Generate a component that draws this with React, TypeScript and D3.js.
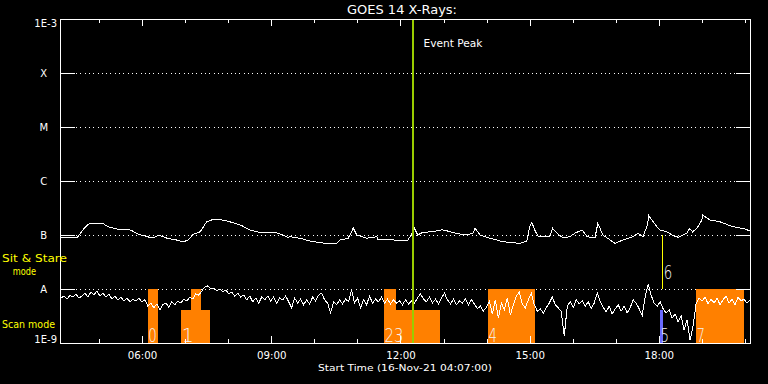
import React from "react";
import * as d3 from "d3";

// ---------- data ----------
const START_UTC = Date.UTC(2021, 10, 16, 4, 7, 0); // 16-Nov-21 04:07:00
const SPAN_MIN = 960;
const TITLE = "GOES 14 X-Rays:";
const X_TITLE = "Start Time (16-Nov-21 04:07:00)";

// 1-8 Angstrom channel: minutes from start, flux in units of 1e-7 W/m^2
const longTimes = [
  0, 22, 33, 40, 59, 61, 68, 78, 92, 99, 107, 120, 128, 134, 138, 148, 159, 170, 177, 184,
  194, 203, 210, 221, 235, 252, 263, 277, 301, 309, 316, 319, 333, 347, 365, 384, 389, 400, 405, 407,
  412, 426, 440, 442, 458, 483, 488, 492, 497, 504, 518, 531, 538, 552, 566, 574, 577, 584, 598, 616,
  639, 649, 653, 656, 660, 665, 681, 685, 691, 699, 709, 716, 726, 733, 744, 748, 755, 765, 772, 783,
  797, 804, 811, 817, 819, 825, 834, 844, 853, 860, 872, 876, 880, 886, 893, 894, 904, 918, 932, 942,
  950, 960,
];
const longFlux = [
  0.88, 0.88, 1.37, 1.65, 1.65, 1.53, 1.39, 1.29, 1.29, 1.2, 1.04, 0.93, 0.88, 0.96, 0.97, 0.87, 0.82, 0.75, 0.8, 1.03,
  1.15, 1.76, 1.9, 1.95, 1.76, 1.49, 1.24, 1.12, 1.09, 1.0, 0.91, 0.93, 0.87, 0.77, 0.71, 0.7, 0.81, 0.87, 1.15, 1.37,
  1.0, 0.87, 0.93, 0.81, 0.81, 0.8, 1.0, 1.37, 1.0, 1.12, 1.15, 1.25, 1.19, 1.06, 1.0, 1.08, 1.33, 1.0, 0.87, 0.75,
  0.7, 0.77, 1.42, 1.72, 1.24, 0.93, 0.93, 1.33, 1.08, 0.89, 0.93, 1.08, 1.24, 0.93, 0.89, 1.65, 1.0, 0.81, 0.7, 0.81,
  0.93, 1.08, 0.93, 1.53, 2.28, 1.76, 1.24, 1.15, 0.97, 0.91, 1.08, 1.33, 1.14, 1.33, 1.9, 2.34, 1.9, 1.76, 1.49, 1.37,
  1.33, 1.19,
];
const LONG_UNIT = 1e-7;

// 0.5-4 Angstrom channel: fixed cadence samples, flux in units of 1e-9 W/m^2
const SHORT_CADENCE_MIN = 960 / 230;
const shortFlux = [
  6.8, 7.4, 6.5, 7.7, 7.1, 8.1, 6.8, 7.4, 8.4, 7.1,
  8.8, 7.7, 9.2, 7.4, 8.4, 7.1, 8.1, 6.5, 7.4, 6.3,
  7.1, 6.0, 6.8, 5.8, 6.5, 6.0, 6.8, 5.8, 6.3, 4.8,
  5.5, 4.5, 5.3, 4.1, 5.1, 5.5, 4.6, 5.8, 5.1, 6.0,
  5.5, 6.5, 6.0, 7.1, 6.5, 8.1, 7.7, 9.2, 10.9, 11.4,
  10.0, 10.4, 9.2, 10.0, 8.8, 9.6, 8.1, 8.8, 7.4, 8.4,
  7.1, 7.7, 6.3, 7.4, 5.8, 6.8, 5.5, 7.1, 6.3, 7.4,
  6.0, 7.1, 5.5, 6.8, 6.3, 7.4, 5.8,
  4.5, 6.8, 5.5, 6.5, 5.1, 6.3, 5.3, 7.1, 6.0, 7.7,
  8.4, 6.3, 5.5, 3.6, 5.8, 5.1, 6.3, 5.3, 6.5, 5.8,
  9.6, 5.5, 6.8, 4.5, 6.3, 5.1, 7.4, 5.5, 6.5, 5.8,
  7.1, 5.5, 6.5, 5.3, 6.3, 5.5, 6.0, 5.1, 6.3, 5.3,
  6.0, 5.5, 6.8, 8.1, 6.5, 5.8, 7.1, 5.5, 6.5, 5.3,
  6.8, 8.4, 6.3, 5.3, 6.5, 5.1, 6.0, 5.5, 6.5, 5.1,
  6.3, 5.3, 4.3, 4.8, 3.9, 4.6, 5.8, 3.45, 6.3, 2.9,
  5.5, 4.1, 6.8, 3.3, 5.1, 7.4, 8.8, 5.3,
  4.5, 6.3, 8.4, 5.1, 3.9, 4.3, 3.6, 4.5, 5.5, 7.1,
  5.1, 4.5, 3.8, 1.35, 4.8, 5.8, 4.5, 6.3, 5.3, 6.0,
  4.8, 5.8, 4.3, 5.5, 8.4, 5.8, 4.6, 3.8, 4.8, 3.45,
  4.3, 5.1, 3.9, 4.8, 3.6, 4.5, 6.3, 5.5, 4.3, 3.2,
  7.1, 12.4, 7.7, 5.5, 4.8, 5.8, 4.3, 3.6, 4.1, 2.9,
  3.45, 2.45, 3.2, 1.74, 2.7, 1.13, 2.07, 5.3, 6.8, 6.0,
  7.1, 5.3, 6.5, 5.5, 6.8, 5.1, 6.3, 7.4, 5.5, 6.5,
  5.1, 7.1, 6.0, 6.5, 5.5, 6.3,
];
const SHORT_UNIT = 1e-9;

// y axis
const levelValues = [1e-9, 1e-8, 1e-7, 1e-6, 1e-5, 1e-4, 1e-3];
const levelLabels = ["1E-9", "A", "B", "C", "M", "X", "1E-3"];

// x axis labels
const hourLabels = ["06:00", "09:00", "12:00", "15:00", "18:00"];

// instrument mode blocks (minutes from start)
const blockStart = [121, 167, 181, 450, 450, 595, 834.5, 884.6];
const blockEnd = [135, 208, 195, 467, 528, 661, 838.6, 951.4];
const blockTop = [1e-8, 4.1e-9, 1e-8, 1e-8, 4.1e-9, 1e-8, 4.1e-9, 1e-8];
const blockKind = ["scan", "scan", "scan", "scan", "scan", "scan", "other", "scan"];

const blockLabelText = ["0", "1", "23", "4", "5", "7"];
const blockLabelMin = [121, 167, 450, 595, 834.5, 884.6];

const EVENT_PEAK_MIN = 490;
const SIT_STARE_MIN = 837.6;
const SIT_STARE_LABEL = "6";

// ---------- chart ----------
const W = 768;
const H = 384;
const FONT = "DejaVu Sans, sans-serif";
const ORANGE = "#ff8000";
const YELLOW = "#ffff00";

const minToDate = (m: number) => new Date(START_UTC + m * 60000);

export default function App() {
  const x = d3.scaleUtc().domain([minToDate(0), minToDate(SPAN_MIN)]).range([61, 750]);
  const y = d3.scaleLog().domain([1e-9, 1e-3]).range([343, 19]);
  const L = 60.5, R = 750.5, T = 19.5, B = 343.5;
  const px = (v: number) => Math.round(v) + 0.5;

  const longData = longTimes.map((t, i) => [t, longFlux[i] * LONG_UNIT] as [number, number]);
  const shortData = shortFlux.map((v, i) => [i * SHORT_CADENCE_MIN, v * SHORT_UNIT] as [number, number]);
  const line = d3
    .line<[number, number]>()
    .x((d) => x(minToDate(d[0])))
    .y((d) => y(Math.max(d[1], 1e-9)));

  const hourTicks = x.ticks(d3.utcHour.every(1) as any);
  const labelDates = hourLabels.map((h) => {
    const [hh, mm] = h.split(":").map(Number);
    return new Date(Date.UTC(2021, 10, 16, hh, mm, 0));
  });

  return (
    <svg
      width={W}
      height={H}
      style={{ position: "absolute", left: 0, top: 0, background: "#000" }}
      fontFamily={FONT}
    >
      <defs>
        <clipPath id="plotClip">
          <rect x={61} y={19} width={689} height={324} />
        </clipPath>
      </defs>
      <rect x={0} y={0} width={W} height={H} fill="#000" />

      {/* title */}
      <text x={402} y={14} fill="#fff" fontSize={12} textAnchor="middle" textLength={110} lengthAdjust="spacingAndGlyphs">
        {TITLE}
      </text>

      {/* dotted level lines */}
      {levelValues.slice(1, 6).map((v, i) => (
        <line
          key={"dot" + i}
          x1={76}
          x2={736}
          y1={px(y(v))}
          y2={px(y(v))}
          stroke="#fff"
          strokeWidth={1}
          strokeDasharray="1 3.3"
          shapeRendering="crispEdges"
        />
      ))}

      {/* mode blocks */}
      {blockStart.map((s, i) => {
        const x0 = Math.round(x(minToDate(s)));
        const x1 = Math.round(x(minToDate(blockEnd[i])));
        const yt = Math.round(y(blockTop[i]));
        return (
          <rect
            key={"blk" + i}
            x={x0}
            y={yt}
            width={Math.max(1, x1 - x0)}
            height={343 - yt}
            fill={blockKind[i] === "scan" ? ORANGE : "#6a6aff"}
            shapeRendering="crispEdges"
          />
        );
      })}

      {/* curves */}
      <g clipPath="url(#plotClip)">
        <path d={line(longData) || ""} fill="none" stroke="#fff" strokeWidth={1} shapeRendering="crispEdges" />
        <path d={line(shortData) || ""} fill="none" stroke="#fff" strokeWidth={1} shapeRendering="crispEdges" />
      </g>

      {/* block labels */}
      {blockLabelText.map((t, i) => {
        const bx = x(minToDate(blockLabelMin[i]));
        return (
          <text
            key={"bl" + i}
            x={t === "1" ? bx + 1 : bx + 0.5}
            y={342}
            fill="#f4f4f4"
            fontSize={19}
            fontWeight={300}
            textLength={t === "1" ? undefined : 8.5 * t.length + (t.length - 1) * 2}
            lengthAdjust="spacingAndGlyphs"
          >
            {t}
          </text>
        );
      })}

      {/* sit & stare marker */}
      <line
        x1={px(x(minToDate(SIT_STARE_MIN)))}
        x2={px(x(minToDate(SIT_STARE_MIN)))}
        y1={y(1e-7)}
        y2={y(1e-8)}
        stroke={YELLOW}
        strokeWidth={1}
        shapeRendering="crispEdges"
      />
      <text
        x={x(minToDate(SIT_STARE_MIN)) + 1.5}
        y={279}
        fill="#f4f4f4"
        fontSize={19}
        fontWeight={300}
        textLength={8.5}
        lengthAdjust="spacingAndGlyphs"
      >
        {SIT_STARE_LABEL}
      </text>

      {/* event peak */}
      <rect
        x={Math.round(x(minToDate(EVENT_PEAK_MIN))) - 1}
        y={19}
        width={2}
        height={324}
        fill="#99cc00"
        shapeRendering="crispEdges"
      />
      <text x={423.5} y={46.5} fill="#fff" fontSize={10.5} textLength={59} lengthAdjust="spacingAndGlyphs">
        Event Peak
      </text>

      {/* frame */}
      <rect x={L} y={T} width={R - L} height={B - T} fill="none" stroke="#fff" strokeWidth={1} shapeRendering="crispEdges" />

      {/* y ticks (left and right) */}
      {levelValues.slice(1, 6).map((v, i) => (
        <g key={"yt" + i}>
          <line x1={61} x2={75} y1={px(y(v))} y2={px(y(v))} stroke="#fff" shapeRendering="crispEdges" />
          <line x1={736} x2={750} y1={px(y(v))} y2={px(y(v))} stroke="#fff" shapeRendering="crispEdges" />
        </g>
      ))}

      {/* y labels */}
      {levelLabels.map((lab, i) => {
        const yy = y(levelValues[i]);
        const isNum = lab.startsWith("1E");
        const base = i === 0 ? 343 : i === levelLabels.length - 1 ? 26.5 : yy + 4;
        return (
          <text
            key={"yl" + i}
            x={isNum ? 57 : 43.7}
            y={base}
            fill="#fff"
            fontSize={10}
            textAnchor={isNum ? "end" : "middle"}
          >
            {lab}
          </text>
        );
      })}

      {/* x ticks top and bottom */}
      {hourTicks.map((d, i) => {
        const major = d.getUTCHours() % 3 === 0;
        const len = major ? 7 : 4;
        const xx = px(x(d));
        return (
          <g key={"xt" + i}>
            <line x1={xx} x2={xx} y1={19} y2={19 + len} stroke="#fff" shapeRendering="crispEdges" />
            <line x1={xx} x2={xx} y1={343} y2={343 - len} stroke="#fff" shapeRendering="crispEdges" />
          </g>
        );
      })}

      {/* x labels */}
      {hourLabels.map((lab, i) => (
        <text
          key={"xl" + i}
          x={x(labelDates[i]) + 0.5}
          y={358.5}
          fill="#fff"
          fontSize={10}
          textAnchor="middle"
          textLength={29.5}
          lengthAdjust="spacingAndGlyphs"
        >
          {lab}
        </text>
      ))}
      <text x={405} y={371} fill="#fff" fontSize={9.5} textAnchor="middle" textLength={174} lengthAdjust="spacingAndGlyphs">
        {X_TITLE}
      </text>

      {/* mode labels */}
      <text x={2} y={262} fill={YELLOW} fontSize={10} textLength={65} lengthAdjust="spacingAndGlyphs">
        Sit &amp; Stare
      </text>
      <text x={12.7} y={274.5} fill={YELLOW} fontSize={10} textLength={23.3} lengthAdjust="spacingAndGlyphs">
        mode
      </text>
      <text x={2} y={328} fill={YELLOW} fontSize={10.5} textLength={53} lengthAdjust="spacingAndGlyphs">
        Scan mode
      </text>
    </svg>
  );
}
